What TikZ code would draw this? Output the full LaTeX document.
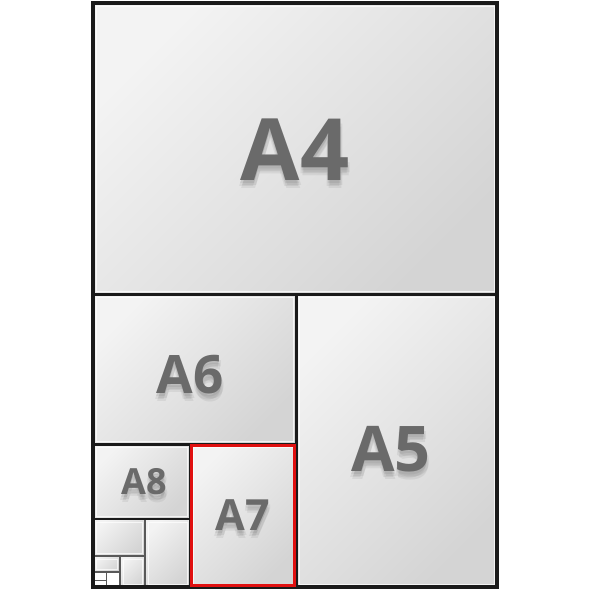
\documentclass[tikz,border=0pt]{standalone}
\usepackage{fontspec}
\setmainfont{Open Sans}
\definecolor{lbl}{HTML}{6A6A6A}
\definecolor{shlight}{HTML}{F3F3F3}
\definecolor{shdark}{HTML}{D4D4D4}
\definecolor{frame}{HTML}{1A1A1A}
\definecolor{redbox}{HTML}{E01010}
\newcommand{\sheetfill}[4]{%
  \shade[top color=shlight, bottom color=shdark, shading angle=45] (#1,#2) rectangle (#3,#4);
  \draw[white, opacity=0.7, line width=0.8pt] (#1+3,#2+3) rectangle (#3-3,#4-3);}
\newcommand{\sheetlabel}[4]{%
  \foreach \dx/\dy in {0/3,2/5,-1/6,1/8}{
    \node[text=black, opacity=0.06, font=\fontsize{#4}{#4}\selectfont\bfseries] at (#2+\dx,#3+\dy) {#1};}
  \node[text=lbl, font=\fontsize{#4}{#4}\selectfont\bfseries] (#1) at (#2,#3) {#1};}
\begin{document}
\begin{tikzpicture}[x=1pt,y=-1pt]
\useasboundingbox (0,0) rectangle (591,591);
\fill[white] (0,0) rectangle (591,591);
% sheets
\sheetfill{93}{3}{497}{294}
\sheetfill{296}{294}{497}{587}
\sheetfill{93}{294}{296}{444}
\sheetfill{190}{444}{296}{587}
\sheetfill{93}{444}{190}{519}
\sheetfill{145}{519}{190}{587}
\sheetfill{93}{519}{145}{556}
\sheetfill{120}{556}{145}{587}
\sheetfill{93}{556}{120}{572}
% small division lines (gray)
\draw[gray!70!black, line width=1.5pt] (145,519) -- (145,587);
\draw[gray!70!black, line width=1.5pt] (93,556) -- (145,556);
\draw[gray!70!black, line width=1.3pt] (120,556) -- (120,587);
\draw[gray!70!black, line width=1.2pt] (93,572) -- (120,572);
\draw[gray!70!black, line width=1pt] (106,572) -- (106,587);
\draw[gray!70!black, line width=1pt] (93,580) -- (106,580);
% main division lines
\draw[frame, line width=3pt] (93,294) -- (497,294);
\draw[frame, line width=3pt] (296,294) -- (296,587);
\draw[frame, line width=3pt] (93,444) -- (296,444);
\draw[frame, line width=2.5pt] (93,519) -- (190,519);
\draw[frame, line width=2.5pt] (190,444) -- (190,587);
% outer frame
\draw[frame, line width=3.5pt] (93,3) rectangle (497,587);
% A7 red highlight
\draw[redbox, line width=3pt] (191,445) rectangle (294,585);
% labels
\sheetlabel{A4}{295}{150}{86}
\sheetlabel{A5}{391}{449}{63}
\sheetlabel{A6}{190}{375}{53}
\sheetlabel{A7}{243}{515}{43}
\sheetlabel{A8}{144}{482}{36}
\end{tikzpicture}
\end{document}
